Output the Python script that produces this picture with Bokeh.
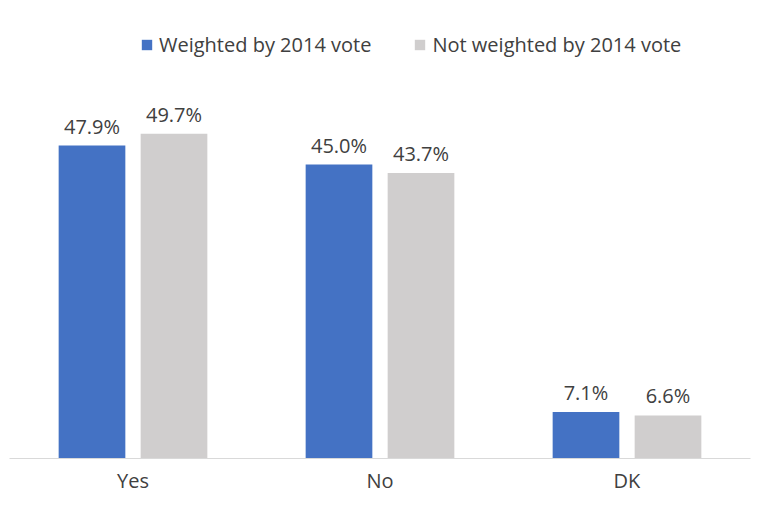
from bokeh.plotting import figure
from bokeh.models import ColumnDataSource, FactorRange, Range1d, Legend, LegendItem
from bokeh.transform import dodge
from bokeh.core.properties import value
from bokeh.embed import file_html
from bokeh.resources import INLINE

categories = ["Yes", "No", "DK"]
weighted = [47.9, 45.0, 7.1]
not_weighted = [49.7, 43.7, 6.6]
series_names = ["Weighted by 2014 vote", "Not weighted by 2014 vote"]

FONT = "Open Sans"
TXT = "#404040"
BLUE = "#4472C4"
GRAY = "#D0CECE"

src = ColumnDataSource(dict(
    cat=categories,
    w=weighted,
    nw=not_weighted,
    wl=[f"{v:.1f}%" for v in weighted],
    nwl=[f"{v:.1f}%" for v in not_weighted],
))

# frame spans 433 px vertically; 6.533 px per percentage point
p = figure(width=752, height=496, x_range=FactorRange(*categories, range_padding=0),
           y_range=Range1d(0, 66.28), output_backend="svg", toolbar_location=None,
           min_border_left=9, min_border_right=2, min_border_top=25, min_border_bottom=38)

off = 0.166
bw = 0.27
r1 = p.vbar(x=dodge("cat", -off, range=p.x_range), top="w", width=bw, source=src,
            fill_color=BLUE, line_color=None)
r2 = p.vbar(x=dodge("cat", off, range=p.x_range), top="nw", width=bw, source=src,
            fill_color=GRAY, line_color=None)

p.text(x=dodge("cat", -off, range=p.x_range), y="w", text="wl", source=src,
       text_align="center", text_baseline="bottom", y_offset=-6,
       text_font=value(FONT), text_font_size="20px", text_color=TXT)
p.text(x=dodge("cat", off, range=p.x_range), y="nw", text="nwl", source=src,
       text_align="center", text_baseline="bottom", y_offset=-6,
       text_font=value(FONT), text_font_size="20px", text_color=TXT)

legend = Legend(items=[LegendItem(label=series_names[0], renderers=[r1]),
                       LegendItem(label=series_names[1], renderers=[r2])],
                orientation="horizontal", location=(131, 400),
                label_text_font=FONT, label_text_font_size="20px", label_text_color=TXT,
                glyph_width=13, glyph_height=13, label_standoff=6, spacing=42,
                background_fill_alpha=0, border_line_color=None, padding=0, margin=0)
p.add_layout(legend, "center")

p.yaxis.visible = False
p.xgrid.grid_line_color = None
p.ygrid.grid_line_color = None
p.outline_line_color = None
p.xaxis.axis_line_color = "#D9D9D9"
p.xaxis.major_tick_line_color = None
p.xaxis.minor_tick_line_color = None
p.xaxis.major_tick_out = 0
p.xaxis.major_tick_in = 0
p.xaxis.major_label_standoff = 8
p.xaxis.major_label_text_font = FONT
p.xaxis.major_label_text_font_size = "20px"
p.xaxis.major_label_text_color = TXT

open("out.html", "w").write(file_html(p, INLINE))
